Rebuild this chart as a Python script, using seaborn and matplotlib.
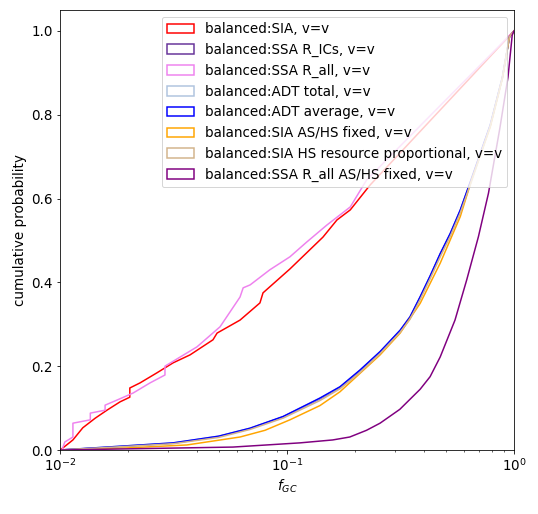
import matplotlib
matplotlib.use("Agg")
import matplotlib.pyplot as plt
from matplotlib.patches import Patch
import seaborn as sns
import pandas as pd

# ---- data (x = f_GC, y = cumulative probability) ----
labels = [
    "balanced:SIA, v=v",
    "balanced:SSA R_ICs, v=v",
    "balanced:SSA R_all, v=v",
    "balanced:ADT total, v=v",
    "balanced:ADT average, v=v",
    "balanced:SIA AS/HS fixed, v=v",
    "balanced:SIA HS resource proportional, v=v",
    "balanced:SSA R_all AS/HS fixed, v=v",
]
colors = ["red", "rebeccapurple", "violet", "lightsteelblue", "blue",
          "orange", "tan", "purple"]

x_sia = [0.0100, 0.0103, 0.0114, 0.0126, 0.0143, 0.0161, 0.0184, 0.0203, 0.0203,
         0.0225, 0.0267, 0.0315, 0.0374, 0.0472, 0.0492, 0.0621, 0.0760, 0.0784,
         0.103, 0.144, 0.166, 0.190, 0.232, 1.0]
y_sia = [0.000, 0.005, 0.024, 0.053, 0.076, 0.095, 0.115, 0.126, 0.148,
         0.160, 0.184, 0.208, 0.227, 0.263, 0.279, 0.310, 0.351, 0.375,
         0.432, 0.508, 0.549, 0.573, 0.632, 1.0]

x_ssa_all = [0.0100, 0.0102, 0.0105, 0.0114, 0.0114, 0.0136, 0.0136, 0.0158, 0.0158,
             0.0178, 0.0210, 0.0249, 0.0290, 0.0290, 0.0401, 0.0507, 0.0621, 0.0641,
             0.0688, 0.0840, 0.103, 0.122, 0.150, 0.190, 0.224, 1.0]
y_ssa_all = [0.000, 0.000, 0.019, 0.031, 0.064, 0.072, 0.088, 0.095, 0.107,
             0.119, 0.136, 0.160, 0.179, 0.200, 0.246, 0.294, 0.365, 0.387,
             0.394, 0.430, 0.461, 0.496, 0.537, 0.580, 0.644, 1.0]

x_grid = [0.0100, 0.0161, 0.0315, 0.0500, 0.0687, 0.0961, 0.1397, 0.1712, 0.2098,
          0.2571, 0.3151, 0.3483, 0.3861, 0.4274, 0.4732, 0.5238, 0.5799, 0.6283,
          0.646, 0.786, 0.889, 0.955, 1.0]

y_adt_avg = [0.000, 0.007, 0.017, 0.033, 0.052, 0.080, 0.124, 0.151, 0.191,
             0.235, 0.286, 0.318, 0.366, 0.416, 0.469, 0.517, 0.573, 0.626,
             0.644, 0.776, 0.890, 0.986, 1.0]
y_ssa_ics = [0.000, 0.006, 0.016, 0.032, 0.051, 0.079, 0.122, 0.149, 0.189,
             0.233, 0.284, 0.316, 0.364, 0.414, 0.467, 0.515, 0.571, 0.624,
             0.642, 0.774, 0.888, 0.985, 1.0]
y_adt_tot = [0.000, 0.007, 0.017, 0.033, 0.052, 0.079, 0.123, 0.150, 0.190,
             0.234, 0.285, 0.317, 0.365, 0.415, 0.468, 0.516, 0.572, 0.625,
             0.643, 0.775, 0.889, 0.986, 1.0]
y_sia_hs = [0.000, 0.006, 0.015, 0.030, 0.049, 0.076, 0.118, 0.146, 0.185,
            0.230, 0.281, 0.312, 0.359, 0.409, 0.461, 0.510, 0.566, 0.619,
            0.637, 0.773, 0.888, 0.986, 1.0]

x_sia_fixed = [0.0100, 0.0197, 0.0362, 0.0621, 0.0800, 0.103, 0.1397, 0.1712,
               0.2571, 0.3151, 0.3861, 0.4732, 0.5799, 0.650, 0.786, 0.889,
               0.955, 1.0]
y_sia_fixed = [0.000, 0.005, 0.012, 0.031, 0.047, 0.072, 0.106, 0.139,
               0.227, 0.279, 0.350, 0.446, 0.557, 0.644, 0.771, 0.887,
               0.986, 1.0]

x_ssa_fixed = [0.0100, 0.0578, 0.114, 0.159, 0.189, 0.224, 0.257, 0.314, 0.386,
               0.427, 0.473, 0.5496, 0.619, 0.697, 0.772, 0.867, 0.941, 0.982, 1.0]
y_ssa_fixed = [0.000, 0.007, 0.017, 0.024, 0.031, 0.047, 0.064, 0.097, 0.145,
               0.175, 0.222, 0.310, 0.406, 0.509, 0.613, 0.769, 0.890, 0.990, 1.0]

series = [
    (x_sia, y_sia),
    (x_grid, y_ssa_ics),
    (x_ssa_all, y_ssa_all),
    (x_grid, y_adt_tot),
    (x_grid, y_adt_avg),
    (x_sia_fixed, y_sia_fixed),
    (x_grid, y_sia_hs),
    (x_ssa_fixed, y_ssa_fixed),
]

plt.rcdefaults()
plt.rcParams["font.family"] = ["DejaVu Sans"]
plt.rcParams["font.size"] = 13.5

W, H, DPI = 538, 514, 72
fig = plt.figure(figsize=(W / DPI, H / DPI), dpi=DPI)
ax = fig.add_axes([60 / W, 1 - 450 / H, (514 - 60) / W, (450 - 10) / H])

for (xs, ys), lab, col in zip(series, labels, colors):
    df = pd.DataFrame({"x": xs, "y": ys})
    sns.lineplot(data=df, x="x", y="y", ax=ax, color=col, estimator=None,
                 sort=False, linewidth=1.5, legend=False)

ax.set_xscale("log")
ax.set_xlim(0.01, 1.0)
ax.set_ylim(0, 1.05)
ax.set_yticks([0.0, 0.2, 0.4, 0.6, 0.8, 1.0])
ax.set_xlabel(r"$f_{GC}$")
ax.set_ylabel("cumulative probability")

handles = [Patch(facecolor="none", edgecolor=c, linewidth=1.5) for c in colors]
ax.legend(handles, labels, loc="upper right")

fig.savefig("out.png", dpi=DPI)
